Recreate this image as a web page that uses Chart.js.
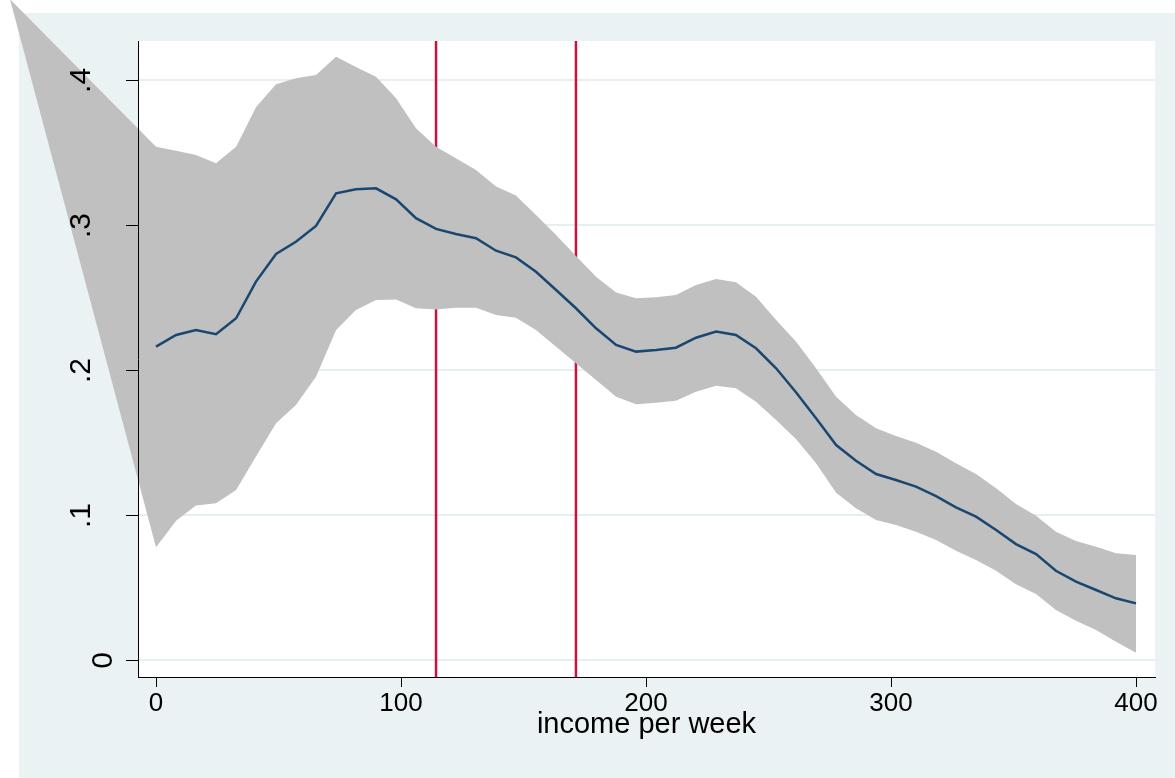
<!DOCTYPE html>
<html>
<head>
<meta charset="utf-8">
<script src="https://cdn.jsdelivr.net/npm/chart.js@4.4.1/dist/chart.umd.min.js"></script>
<style>
  html, body { margin: 0; padding: 0; background: #ffffff; }
  #wrap { width: 1175px; height: 778px; }
</style>
</head>
<body>
<div id="wrap"><canvas id="c" width="1175" height="778"></canvas></div>
<script>
// Local polynomial fit of the outcome on weekly income, with 95% band
const income = [0, 8.2, 16.3, 24.5, 32.7, 40.8, 49.0, 57.1, 65.3, 73.5,
  81.6, 89.8, 98.0, 106.1, 114.3, 122.4, 130.6, 138.8, 146.9, 155.1,
  163.3, 171.4, 179.6, 187.8, 195.9, 204.1, 212.2, 220.4, 228.6, 236.7,
  244.9, 253.1, 261.2, 269.4, 277.6, 285.7, 293.9, 302.0, 310.2, 318.4,
  326.5, 334.7, 342.9, 351.0, 359.2, 367.3, 375.5, 383.7, 391.8, 400];

const fitted = [0.2164, 0.2245, 0.2279, 0.2250, 0.2360, 0.2613, 0.2803, 0.2888, 0.2997, 0.3222,
  0.3250, 0.3256, 0.3180, 0.3050, 0.2976, 0.2941, 0.2912, 0.2826, 0.2780, 0.2681,
  0.2555, 0.2429, 0.2291, 0.2176, 0.2130, 0.2141, 0.2157, 0.2226, 0.2268, 0.2245,
  0.2153, 0.2015, 0.1850, 0.1670, 0.1486, 0.1378, 0.1286, 0.1245, 0.1199, 0.1134,
  0.1056, 0.0992, 0.0900, 0.0803, 0.0734, 0.0619, 0.0544, 0.0486, 0.0429, 0.0394];

const ciUpper = [0.3543, 0.3516, 0.3486, 0.3429, 0.3543, 0.3815, 0.3974, 0.4015, 0.4038, 0.4164,
  0.4093, 0.4026, 0.3877, 0.3670, 0.3543, 0.3463, 0.3383, 0.3268, 0.3206, 0.3072,
  0.2934, 0.2790, 0.2647, 0.2537, 0.2498, 0.2505, 0.2521, 0.2590, 0.2631, 0.2608,
  0.2509, 0.2348, 0.2199, 0.2015, 0.1819, 0.1693, 0.1601, 0.1548, 0.1502, 0.1440,
  0.1360, 0.1286, 0.1188, 0.1079, 0.0999, 0.0888, 0.0824, 0.0785, 0.0739, 0.0728];

const ciLower = [0.0781, 0.0964, 0.1068, 0.1084, 0.1176, 0.1406, 0.1636, 0.1762, 0.1957, 0.2279,
  0.2417, 0.2486, 0.2490, 0.2429, 0.2421, 0.2433, 0.2433, 0.2383, 0.2364, 0.2279,
  0.2164, 0.2050, 0.1934, 0.1819, 0.1767, 0.1778, 0.1792, 0.1854, 0.1895, 0.1877,
  0.1785, 0.1659, 0.1527, 0.1360, 0.1157, 0.1050, 0.0969, 0.0934, 0.0888, 0.0831,
  0.0757, 0.0693, 0.0619, 0.0525, 0.0459, 0.0348, 0.0274, 0.0210, 0.0130, 0.0054];

// The band's outline also runs through one vertex left of the plotted range
const ciApex = { x: -59.6, y: 0.456 };

// Income cut-offs marked with vertical lines
const cutoffs = [114.3, 171.4];

const xTickValues = [0, 100, 200, 300, 400];
const yTickValues = [0, 0.1, 0.2, 0.3, 0.4];
const yTickLabels = ['0', '.1', '.2', '.3', '.4'];
const xTitle = 'income per week';

// Axis ranges
const X_MIN = -7.35, X_MAX = 407.75;
const Y_MIN = -0.01138, Y_MAX = 0.4272;

const FONT = '"Liberation Sans", Arial, Helvetica, sans-serif';
const OUTER_BG = '#EAF2F3';
const GRID = '#E6EFF1';
const BAND = '#C0C0C0';
const FIT = '#1A476F';
const CUT = '#C9133C';

const cutoffSets = cutoffs.map(c => ({
  label: 'cutoff ' + c,
  data: [{ x: c, y: Y_MIN }, { x: c, y: Y_MAX }],
  borderColor: CUT,
  borderWidth: 2.5,
  pointRadius: 0,
  order: 3
}));

const upperSet = {
  label: 'upper',
  data: [ciApex].concat(income.map((x, i) => ({ x, y: ciUpper[i] }))),
  showLine: false, pointRadius: 0, order: 2
};
const lowerSet = {
  label: 'lower',
  data: [ciApex].concat(income.map((x, i) => ({ x, y: ciLower[i] }))),
  showLine: false, pointRadius: 0, order: 2
};
const fitSet = {
  label: 'fit',
  data: income.map((x, i) => ({ x, y: fitted[i] })),
  borderColor: FIT,
  borderWidth: 2.5,
  pointRadius: 0,
  tension: 0,
  order: 1
};

const datasets = [...cutoffSets, upperSet, lowerSet, fitSet];
const UP_IDX = cutoffSets.length, LO_IDX = cutoffSets.length + 1, FIT_IDX = cutoffSets.length + 2;

// Page backgrounds: white page, tinted graph region, white plot region
const backdrop = {
  id: 'backdrop',
  beforeDraw(chart) {
    const { ctx, width, height, chartArea: a } = chart;
    ctx.save();
    ctx.fillStyle = '#ffffff';
    ctx.fillRect(0, 0, width, height);
    ctx.fillStyle = OUTER_BG;
    ctx.fillRect(19, 13, width - 19, height - 13);
    ctx.fillStyle = '#ffffff';
    ctx.fillRect(a.left, a.top, a.right - a.left, a.bottom - a.top);
    ctx.restore();
  }
};

// Confidence band polygon, painted just before the fitted line (not clipped)
const band = {
  id: 'band',
  beforeDatasetDraw(chart, args) {
    if (args.index !== FIT_IDX) return;
    const up = chart.getDatasetMeta(UP_IDX).data;
    const lo = chart.getDatasetMeta(LO_IDX).data;
    const ctx = chart.ctx;
    ctx.save();
    ctx.beginPath();
    ctx.moveTo(up[0].x, up[0].y);
    for (let i = 1; i < up.length; i++) ctx.lineTo(up[i].x, up[i].y);
    for (let i = lo.length - 1; i >= 0; i--) ctx.lineTo(lo[i].x, lo[i].y);
    ctx.closePath();
    ctx.fillStyle = BAND;
    ctx.fill();
    ctx.restore();
  }
};

// Y tick marks and rotated y labels, on top of the band
const yAxisMarks = {
  id: 'yAxisMarks',
  afterDraw(chart) {
    const { ctx, chartArea: a } = chart;
    const ys = chart.scales.y;
    ctx.save();
    ctx.strokeStyle = '#000';
    ctx.lineWidth = 1;
    ctx.fillStyle = '#000';
    ctx.font = '30px ' + FONT;
    ctx.textAlign = 'center';
    ctx.textBaseline = 'alphabetic';
    yTickValues.forEach((v, i) => {
      const py = Math.round(ys.getPixelForValue(v)) + 0.5;
      ctx.beginPath();
      ctx.moveTo(a.left - 12, py);
      ctx.lineTo(a.left, py);
      ctx.stroke();
      const t = yTickLabels[i];
      const bx = t.length > 1 ? 90 : 112;
      ctx.save();
      ctx.translate(bx, ys.getPixelForValue(v));
      ctx.rotate(-Math.PI / 2);
      ctx.fillText(t, 0, 0);
      ctx.restore();
    });
    ctx.restore();
  }
};

new Chart(document.getElementById('c'), {
  type: 'line',
  data: { datasets },
  plugins: [backdrop, band, yAxisMarks],
  options: {
    responsive: false,
    animation: false,
    devicePixelRatio: 1,
    events: [],
    layout: { padding: { left: 0, top: 41, right: 20, bottom: 0 } },
    plugins: { legend: { display: false }, tooltip: { enabled: false } },
    scales: {
      x: {
        type: 'linear',
        min: X_MIN, max: X_MAX,
        afterBuildTicks: s => { s.ticks = xTickValues.map(v => ({ value: v })); },
        afterFit: s => { s.height = 101; },
        grid: { drawOnChartArea: false, drawTicks: true, tickLength: 10, tickColor: '#000', tickWidth: 1, z: 1 },
        border: { display: true, color: '#000', width: 1, z: 1 },
        ticks: { color: '#000', font: { family: FONT, size: 26 }, padding: 1, maxRotation: 0, z: 1,
                 callback: v => String(v) },
        title: { display: true, text: xTitle, color: '#000', font: { family: FONT, size: 29 },
                 padding: { top: 0, bottom: 36 } }
      },
      y: {
        type: 'linear',
        min: Y_MIN, max: Y_MAX,
        afterBuildTicks: s => { s.ticks = yTickValues.map(v => ({ value: v })); },
        afterFit: s => { s.width = 138; },
        grid: { color: GRID, lineWidth: 2, drawTicks: false, z: -1 },
        border: { display: true, color: '#000', width: 1, z: 1 },
        ticks: { display: false }
      }
    }
  }
});
</script>
</body>
</html>
